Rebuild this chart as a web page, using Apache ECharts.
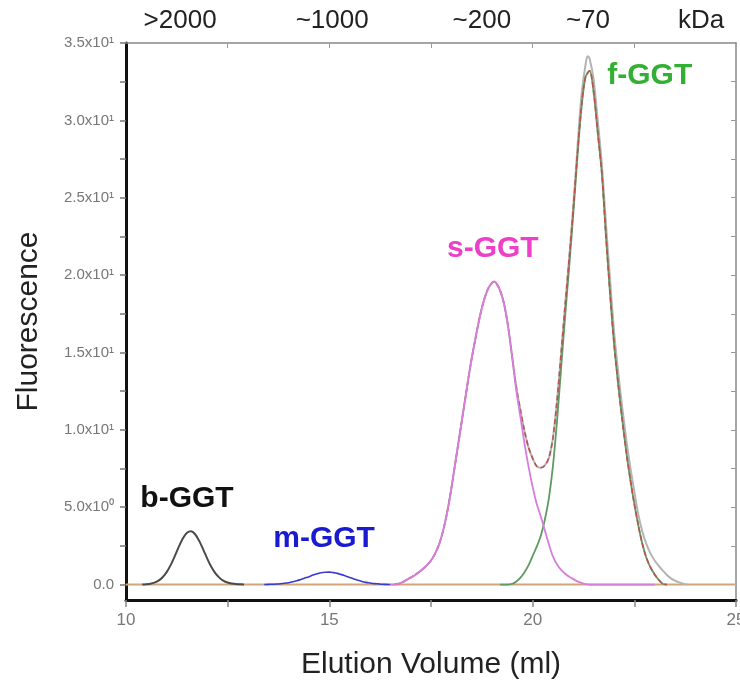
<!DOCTYPE html>
<html>
<head>
<meta charset="utf-8">
<script src="https://cdn.jsdelivr.net/npm/echarts@6/dist/echarts.min.js"></script>
<style>html,body{margin:0;padding:0;background:#fff}#c{width:740px;height:683px}</style>
</head>
<body>
<div id="c"></div>
<script>
// ---- data ----
const yLabelValues = [0, 5, 10, 15, 20, 25, 30, 35];
const yLabelTexts = ['0.0', '5.0x10⁰', '1.0x10¹', '1.5x10¹', '2.0x10¹', '2.5x10¹', '3.0x10¹', '3.5x10¹'];
const xLabelValues = [10, 15, 20, 25];
const kdaPositions = [11.33, 15.07, 18.75, 21.36, 24.14];
const kdaTexts = ['>2000', '~1000', '~200', '~70', 'kDa'];

const baseline = [[10, 0], [25, 0]];

const bGGT = [[10.4,0],[10.5,0.02],[10.6,0.05],[10.7,0.12],[10.8,0.25],[10.9,0.47],[11.0,0.8],[11.1,1.27],[11.2,1.84],[11.3,2.45],[11.4,2.99],[11.5,3.35],[11.6,3.44],[11.7,3.25],[11.8,2.82],[11.9,2.26],[12.0,1.66],[12.1,1.13],[12.2,0.72],[12.3,0.43],[12.4,0.24],[12.5,0.13],[12.6,0.07],[12.7,0.03],[12.8,0.01],[12.9,0]];

const mGGT = [[13.4,0],[13.5,0.01],[13.6,0.02],[13.7,0.03],[13.8,0.05],[13.9,0.08],[14.0,0.12],[14.1,0.18],[14.2,0.24],[14.3,0.33],[14.4,0.42],[14.5,0.51],[14.6,0.61],[14.7,0.69],[14.8,0.76],[14.9,0.79],[15.0,0.8],[15.1,0.77],[15.2,0.72],[15.3,0.64],[15.4,0.55],[15.5,0.46],[15.6,0.36],[15.7,0.28],[15.8,0.2],[15.9,0.14],[16.0,0.1],[16.1,0.06],[16.2,0.04],[16.3,0.02],[16.4,0.01],[16.5,0]];

const sGGT = [[16.5,0],[16.6,0],[16.7,0.05],[16.8,0.15],[16.9,0.3],[17.0,0.45],[17.1,0.6],[17.2,0.8],[17.3,1.0],[17.4,1.25],[17.5,1.55],[17.6,2.0],[17.7,2.6],[17.8,3.5],[17.9,4.7],[18.0,6.2],[18.1,7.9],[18.2,9.6],[18.3,11.3],[18.4,13.0],[18.5,14.6],[18.6,16.0],[18.7,17.3],[18.8,18.35],[18.9,19.1],[19.0,19.5],[19.05,19.58],[19.1,19.5],[19.2,19.0],[19.3,18.1],[19.4,16.6],[19.5,14.6],[19.6,12.5],[19.7,10.8],[19.8,9.1],[19.9,7.6],[20.0,6.3],[20.1,5.2],[20.2,4.4],[20.3,3.5],[20.4,2.6],[20.5,1.8],[20.6,1.3],[20.7,0.95],[20.8,0.7],[20.9,0.5],[21.0,0.35],[21.1,0.2],[21.2,0.1],[21.3,0.03],[21.4,0],[23.0,0]];

const fGGT = [[19.2,0],[19.4,0],[19.5,0.05],[19.6,0.2],[19.7,0.45],[19.8,0.8],[19.9,1.25],[20.0,1.85],[20.1,2.45],[20.2,3.15],[20.3,4.2],[20.4,5.6],[20.5,7.7],[20.6,10.6],[20.7,14.0],[20.8,17.4],[20.9,20.6],[21.0,24.0],[21.1,27.6],[21.2,30.8],[21.3,32.8],[21.4,33.2],[21.5,31.8],[21.6,29.2],[21.7,26.6],[21.8,22.6],[21.9,18.9],[22.0,15.6],[22.1,13.0],[22.2,10.7],[22.3,8.6],[22.4,6.8],[22.5,5.2],[22.6,3.8],[22.7,2.6],[22.8,1.7],[22.9,1.1],[23.0,0.65],[23.1,0.3],[23.2,0.05],[23.3,0]];

const fitSum = [[16.6,0],[16.7,0.05],[16.8,0.15],[16.9,0.3],[17.0,0.45],[17.1,0.6],[17.2,0.8],[17.3,1.0],[17.4,1.25],[17.5,1.55],[17.6,2.0],[17.7,2.6],[17.8,3.5],[17.9,4.7],[18.0,6.2],[18.1,7.9],[18.2,9.6],[18.3,11.3],[18.4,13.0],[18.5,14.6],[18.6,16.0],[18.7,17.3],[18.8,18.35],[18.9,19.1],[19.0,19.5],[19.05,19.58],[19.1,19.5],[19.2,19.0],[19.3,18.1],[19.4,16.6],[19.5,14.65],[19.6,12.7],[19.7,11.25],[19.8,9.9],[19.9,8.85],[20.0,8.15],[20.1,7.65],[20.2,7.55],[20.3,7.7],[20.4,8.2],[20.5,9.5],[20.6,11.9],[20.7,14.95],[20.8,18.1],[20.9,21.1],[21.0,24.35],[21.1,27.8],[21.2,30.9],[21.3,32.83],[21.4,33.2],[21.5,31.8],[21.6,29.2],[21.7,26.6],[21.8,22.6],[21.9,18.9],[22.0,15.6],[22.1,13.0],[22.2,10.7],[22.3,8.6],[22.4,6.8],[22.5,5.2],[22.6,3.8],[22.7,2.6],[22.8,1.7],[22.9,1.1],[23.0,0.65],[23.1,0.3],[23.2,0.05],[23.3,0]];

const measured = [[16.6,0],[16.7,0.05],[16.8,0.15],[16.9,0.3],[17.0,0.45],[17.1,0.6],[17.2,0.8],[17.3,1.0],[17.4,1.25],[17.5,1.55],[17.6,2.0],[17.7,2.6],[17.8,3.5],[17.9,4.7],[18.0,6.2],[18.1,7.9],[18.2,9.6],[18.3,11.3],[18.4,13.0],[18.5,14.6],[18.6,16.0],[18.7,17.3],[18.8,18.35],[18.9,19.1],[19.0,19.5],[19.05,19.58],[19.1,19.5],[19.2,19.0],[19.3,18.1],[19.4,16.6],[19.5,14.65],[19.6,12.7],[19.7,11.25],[19.8,9.9],[19.9,8.85],[20.0,8.15],[20.1,7.65],[20.2,7.55],[20.3,7.7],[20.4,8.2],[20.5,9.5],[20.6,11.9],[20.7,14.95],[20.8,18.1],[20.9,21.2],[21.0,24.5],[21.1,28.2],[21.2,31.6],[21.3,33.6],[21.35,34.15],[21.4,34.0],[21.5,32.6],[21.6,30.0],[21.7,27.2],[21.8,23.4],[21.9,19.8],[22.0,16.4],[22.1,13.8],[22.2,11.5],[22.3,9.4],[22.4,7.6],[22.5,6.0],[22.6,4.5],[22.7,3.4],[22.8,2.6],[22.9,2.0],[23.0,1.55],[23.1,1.2],[23.2,0.9],[23.3,0.62],[23.4,0.4],[23.5,0.25],[23.6,0.14],[23.7,0.06],[23.8,0]];

const peakLabels = [
  {name: 'b-GGT', x: 11.5, y: 5.55, color: '#111111'},
  {name: 'm-GGT', x: 14.87, y: 2.97, color: '#1a1ad0'},
  {name: 's-GGT', x: 19.02, y: 21.7, color: '#ee3fc8'},
  {name: 'f-GGT', x: 22.88, y: 32.9, color: '#33b033'}
];

// ---- chart ----
const sans = "'Liberation Sans',Arial,sans-serif";
const chart = echarts.init(document.getElementById('c'), null, {renderer: 'canvas'});

function lineSeries(name, data, color, width, extra) {
  return Object.assign({
    name: name, type: 'line', data: data, showSymbol: false, symbol: 'none',
    smooth: 0.3, xAxisIndex: 0, yAxisIndex: 0, animation: false,
    lineStyle: {color: color, width: width}, z: 3
  }, extra || {});
}

chart.setOption({
  animation: false,
  grid: {left: 126, right: 4, top: 43, bottom: 83, containLabel: false, outerBoundsMode: 'none'},
  xAxis: [
    {
      type: 'value', position: 'bottom', min: 10, max: 25, interval: 2.5,
      axisLine: {show: true, onZero: false, lineStyle: {color: '#111', width: 3}},
      axisTick: {show: true, inside: false, length: 7, lineStyle: {color: '#888', width: 1.5}},
      axisLabel: {customValues: xLabelValues, color: '#777', fontSize: 17, fontFamily: sans, margin: 12},
      splitLine: {show: false},
      name: 'Elution Volume (ml)', nameLocation: 'middle', nameGap: 50,
      nameTextStyle: {fontSize: 30, color: '#222', fontFamily: sans}
    },
    {
      type: 'value', position: 'top', min: 10, max: 25,
      axisLine: {show: true, onZero: false, lineStyle: {color: '#888', width: 1.5}},
      axisTick: {show: true, inside: true, length: 5, customValues: [12.5, 15, 17.5, 20, 22.5], lineStyle: {color: '#999'}},
      axisLabel: {
        show: true, customValues: kdaPositions, color: '#222', fontSize: 26, fontFamily: sans, margin: 9,
        formatter: function (v) {
          let best = 0;
          for (let i = 1; i < kdaPositions.length; i++) if (Math.abs(kdaPositions[i] - v) < Math.abs(kdaPositions[best] - v)) best = i;
          return kdaTexts[best];
        }
      },
      splitLine: {show: false}
    }
  ],
  yAxis: [
    {
      type: 'value', position: 'left', min: -1, max: 35,
      axisLine: {show: true, onZero: false, lineStyle: {color: '#111', width: 3}},
      axisTick: {show: true, inside: false, length: 6, customValues: [0, 2.5, 5, 7.5, 10, 12.5, 15, 17.5, 20, 22.5, 25, 27.5, 30, 32.5, 35], lineStyle: {color: '#777', width: 1.5}},
      axisLabel: {
        customValues: yLabelValues, color: '#777', fontSize: 15, fontFamily: sans, margin: 12,
        formatter: function (v) { return yLabelTexts[yLabelValues.indexOf(v)]; }
      },
      splitLine: {show: false},
      name: 'Fluorescence', nameLocation: 'middle', nameGap: 82, nameRotate: 90,
      nameTextStyle: {fontSize: 30, color: '#222', fontFamily: sans}
    },
    {
      type: 'value', position: 'right', min: -1, max: 35,
      axisLine: {show: true, onZero: false, lineStyle: {color: '#888', width: 1.5}},
      axisTick: {show: true, inside: true, length: 5, customValues: [2.5, 5, 7.5, 10, 12.5, 15, 17.5, 20, 22.5, 25, 27.5, 30, 32.5], lineStyle: {color: '#999'}},
      axisLabel: {show: false},
      splitLine: {show: false}
    }
  ],
  series: [
    lineSeries('baseline', baseline, '#d2a679', 2, {smooth: false, z: 2}),
    lineSeries('measured', measured, '#b4b4b4', 2),
    lineSeries('b-GGT', bGGT, '#4a4a4a', 2),
    lineSeries('m-GGT', mGGT, '#3a3acc', 1.6),
    lineSeries('f-GGT', fGGT, '#5e9a62', 1.8),
    lineSeries('fit', fitSum, '#c0504d', 1.6, {lineStyle: {color: '#c0504d', width: 1.6, type: [5, 3]}}),
    lineSeries('s-GGT', sGGT, '#d77ddc', 1.8, {z: 4}),
    {
      name: 'labels', type: 'scatter', symbolSize: 0, animation: false, z: 5,
      itemStyle: {opacity: 1},
      data: peakLabels.map(function (p) {
        return {value: [p.x, p.y], name: p.name,
          label: {show: true, position: 'inside', formatter: p.name, color: p.color, opacity: 1, fontSize: 30, fontWeight: 'bold', fontFamily: sans}};
      })
    }
  ]
});
</script>
</body>
</html>
